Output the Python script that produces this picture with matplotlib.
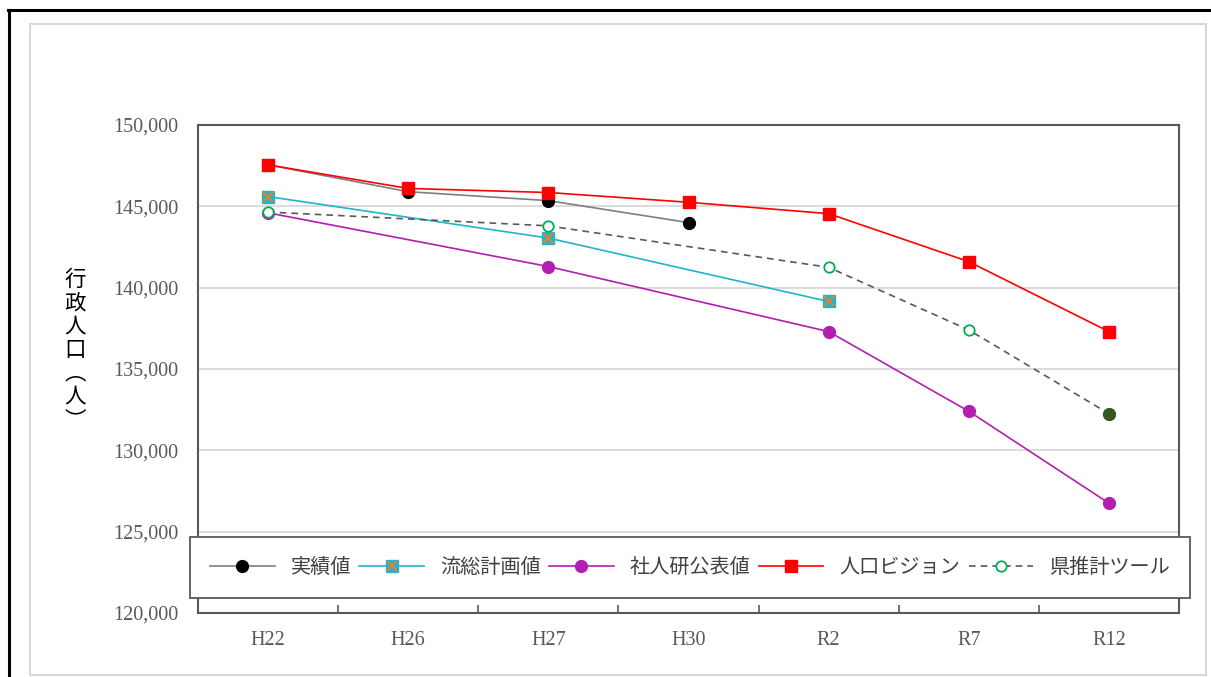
import matplotlib.pyplot as plt
import numpy as np
from matplotlib.lines import Line2D
from matplotlib.patches import Rectangle
from matplotlib.legend_handler import HandlerTuple
from matplotlib.ticker import FuncFormatter, FixedLocator

plt.rcParams['font.family'] = ['Noto Sans CJK JP', 'DejaVu Sans']

years = ["H22", "H26", "H27", "H30", "R2", "R7", "R12"]
nan = np.nan
jisseki = [147550, 145900, 145350, 144000, nan, nan, nan]
ryuso = [145600, nan, 143050, nan, 139150, nan, nan]
shajinken = [144600, nan, 141300, nan, 137300, 132400, 126750]
vision = [147550, 146100, 145850, 145250, 144550, 141600, 137300]
ken_tool = [144650, nan, 143800, nan, 141250, 137400, 132250]

series_names = ["実績値", "流総計画値", "社人研公表値", "人口ビジョン", "県推計ツール"]

W, H = 1211, 677
fig = plt.figure(figsize=(W / 100, H / 100), dpi=100)

# frame lines around the chart
fig.add_artist(Line2D([8 / W, 1], [1 - 10 / H, 1 - 10 / H], color="black", lw=2.2))
fig.add_artist(Line2D([9 / W, 9 / W], [0, 1 - 10 / H], color="black", lw=2.2))
fig.add_artist(Rectangle((30 / W, 2 / H), 1176 / W, (675 - 24) / H, fill=False,
                         edgecolor="#D9D9D9", lw=1.5, transform=fig.transFigure))

ax = fig.add_axes([198 / W, 1 - 613 / H, 981 / W, 488 / H])
x = np.arange(len(years))


def draw(vals, **kw):
    v = np.array(vals, dtype=float)
    m = ~np.isnan(v)
    return ax.plot(x[m], v[m], **kw)[0]


h1 = draw(jisseki, color="#7F7F7F", lw=1.2, marker="o", ms=8.5,
          mfc="black", mec="black", zorder=3)
h2 = draw(ryuso, color="#22B4C8", lw=1.2, marker="s", ms=8.5,
          mfc="#22B4C8", mec="#22B4C8", zorder=3)
h2x = draw(ryuso, ls="none", marker="x", ms=7.5, mew=1.5, color="#ED7D31", zorder=4)
h3 = draw(shajinken, color="#B11EB0", lw=1.2, marker="o", ms=8.5,
          mfc="#B11EB0", mec="#B11EB0", zorder=3)
h4 = draw(vision, color="#FF0000", lw=1.2, marker="s", ms=9,
          mfc="#FF0000", mec="#FF0000", zorder=5)
h5 = draw(ken_tool, color="#595959", lw=1.2, ls=(0, (4, 3)), marker="o", ms=7.5,
          mfc="white", mec="#00B050", mew=1.3, zorder=3)
# last projection point is filled
ax.plot(x[-1], ken_tool[-1], ls="none", marker="o", ms=8.5,
        mfc="#375623", mec="#375623", zorder=4)

ax.set_xlim(-0.5, len(years) - 0.5)
ax.set_ylim(120000, 150000)
ax.set_yticks(np.arange(120000, 150001, 5000))
ax.yaxis.set_major_formatter(FuncFormatter(lambda v, p: f"{int(v):,}"))
ax.grid(axis="y", color="#D9D9D9", lw=1.3)
ax.set_axisbelow(True)

ax.set_xticks(x)
ax.set_xticklabels(years)
ax.xaxis.set_minor_locator(FixedLocator(np.arange(0.5, len(years) - 1, 1)))
ax.tick_params(axis="x", which="major", length=0, pad=13)
ax.tick_params(axis="x", which="minor", direction="in", length=6, width=1.2, color="#595959")
ax.tick_params(axis="y", length=0, pad=14)
for lab in ax.get_xticklabels() + ax.get_yticklabels():
    lab.set_family("Liberation Serif")
    lab.set_fontsize(14.5)
    lab.set_color("#595959")

for s in ax.spines.values():
    s.set_color("#595959")
    s.set_linewidth(1.5)

fig.text(75 / W, 1 - 350 / H, "行\n政\n人\n口\n︵\n人\n︶", ha="center", va="center",
         fontsize=15.5, linespacing=1.08, color="black")

leg = ax.legend([h1, (h2, h2x), h3, h4, h5], series_names, ncol=5, mode="expand",
                loc="lower left", bbox_to_anchor=(-0.0082, 0.0307, 1.0194, 0.125),
                handler_map={tuple: HandlerTuple(ndivide=1)},
                fontsize=14.5, handlelength=3.2, borderpad=1.0, frameon=True, fancybox=False,
                framealpha=1, edgecolor="#595959", borderaxespad=0, labelcolor="#404040")
leg.get_frame().set_linewidth(1.3)
leg.set_zorder(10)

fig.savefig("out.png", dpi=100)
